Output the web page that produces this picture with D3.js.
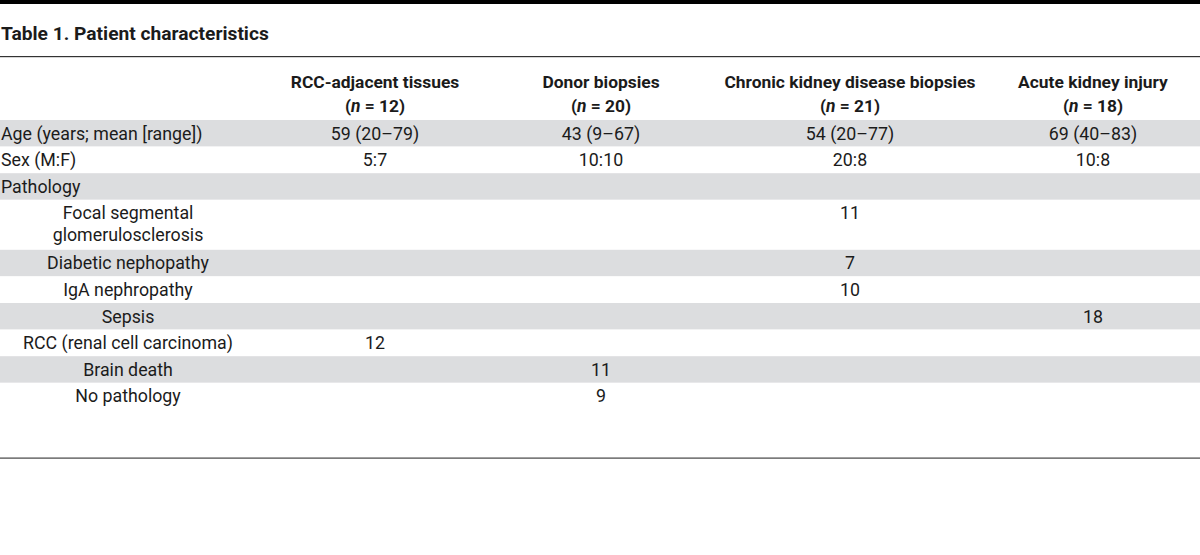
<!DOCTYPE html>
<html>
<head>
<meta charset="utf-8">
<script src="https://cdn.jsdelivr.net/npm/d3@7"></script>
<style>
  body { margin: 0; background: #fff; }
  svg { display: block; font-family: 'Roboto', 'Noto Sans', sans-serif; }
</style>
</head>
<body>
<svg id="chart" width="1200" height="555"></svg>
<script>
const title = 'Table 1. Patient characteristics';
const groups = ['RCC-adjacent tissues', 'Donor biopsies', 'Chronic kidney disease biopsies', 'Acute kidney injury'];
const groupN = [12, 20, 21, 18];

// row labels (multi-line labels as arrays), and which ones are sub-items
const rowLabels = [
    ['Age (years; mean [range])'],
    ['Sex (M:F)'],
    ['Pathology'],
    ['Focal segmental', 'glomerulosclerosis'],
    ['Diabetic nephopathy'],
    ['IgA nephropathy'],
    ['Sepsis'],
    ['RCC (renal cell carcinoma)'],
    ['Brain death'],
    ['No pathology']
];
const subRow = [false, false, false, true, true, true, true, true, true, true];

// one array per column
const rccValues   = ['59 (20–79)', '5:7',   '', '',   '',  '',   '',   '12', '',   ''];
const donorValues = ['43 (9–67)',  '10:10', '', '',   '',  '',   '',   '',   '11', '9'];
const ckdValues   = ['54 (20–77)', '20:8',  '', '11', '7', '10', '',   '',   '',   ''];
const akiValues   = ['69 (40–83)', '10:8',  '', '',   '',  '',   '18', '',   '',   ''];
const columns = [rccValues, donorValues, ckdValues, akiValues];

const W = 1200;
const svg = d3.select('#chart');
const ink = '#1b1b1b';
const fs = 17.8;   // body text
const hfs = 17.4;  // header text

// column centres
const x = d3.scaleOrdinal().domain(groups).range([375, 601, 850, 1093]);
const subX = 128;

// row positions: cumulative heights (first line 26.6px, each extra line 23.4px)
const rowH = rowLabels.map(l => 26.6 + (l.length - 1) * 23.4);
const rowOffset = d3.cumsum([0].concat(rowH)).slice(0, rowLabels.length);
const y = d3.scaleLinear().domain([0, 300]).range([120, 420]);
const rowTop = i => y(rowOffset[i]);

// top thick bar
svg.append('rect').attr('x', 0).attr('y', 0).attr('width', W).attr('height', 4).attr('fill', '#000');

svg.append('text')
    .attr('x', 1).attr('y', 40)
    .attr('font-size', 19.2).attr('font-weight', 700).attr('fill', ink)
    .text(title);

svg.append('rect').attr('x', 0).attr('y', 56).attr('width', W).attr('height', 1.2).attr('fill', '#333');

// header
const head = svg.append('g').attr('font-weight', 700).attr('font-size', hfs).attr('fill', ink)
    .attr('text-anchor', 'middle');
groups.forEach((g, i) => {
    head.append('text').attr('x', x(g)).attr('y', 88).text(g);
    const t = head.append('text').attr('x', x(g)).attr('y', 111.5);
    t.append('tspan').text('(');
    t.append('tspan').attr('font-style', 'italic').text('n');
    t.append('tspan').text(' = ' + groupN[i] + ')');
});

// striped rows
const rows = svg.selectAll('g.row').data(rowLabels).enter().append('g')
    .attr('class', 'row')
    .attr('transform', (d, i) => 'translate(0,' + rowTop(i) + ')');

rows.append('rect')
    .attr('width', W)
    .attr('height', (d, i) => rowH[i])
    .attr('fill', (d, i) => i % 2 === 0 ? '#dcdddf' : '#fff');

rows.append('text')
    .attr('font-size', fs).attr('fill', ink)
    .attr('text-anchor', (d, i) => subRow[i] ? 'middle' : 'start')
    .attr('x', (d, i) => subRow[i] ? subX : 1)
    .selectAll('tspan').data(d => d).enter().append('tspan')
    .attr('x', function() { return d3.select(this.parentNode).attr('x'); })
    .attr('y', (d, j) => 19.5 + j * 22)
    .text(d => d);

columns.forEach((vals, c) => {
    rows.append('text')
        .attr('font-size', fs).attr('fill', ink)
        .attr('text-anchor', 'middle')
        .attr('x', x(groups[c]))
        .attr('y', 19.5)
        .text((d, i) => vals[i]);
});

// bottom rule
svg.append('rect').attr('x', 0).attr('y', 457.5).attr('width', W).attr('height', 1.2).attr('fill', '#444');
</script>
</body>
</html>
